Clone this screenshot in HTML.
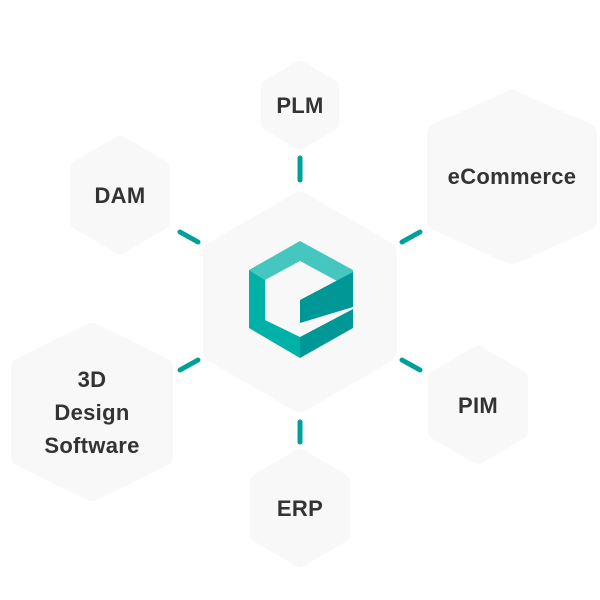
<!DOCTYPE html><html><head><style>body{margin:0;background:#fff}svg{display:block}text{font-family:"Liberation Sans",sans-serif;font-weight:bold;fill:#333;font-size:22px;text-anchor:middle;letter-spacing:0.3px}</style></head><body>
<svg width="600" height="600" viewBox="0 0 600 600">
<g fill="#f8f8f8" stroke="#f8f8f8" stroke-linejoin="round">
<polygon stroke-width="24" points="300,204 385,253 385,351 300,400 215,351 215,253"/>
<polygon stroke-width="16" points="300,69 331,87 331,123 300,141 269,123 269,87"/>
<polygon stroke-width="18" points="120,145 161,169 161,221 120,245 79,221 79,169"/>
<polygon stroke-width="22" points="512,101 586,134 586,220 512,253 438,220 438,134"/>
<polygon stroke-width="18" points="478,355 519,379 519,431 478,455 437,431 437,379"/>
<polygon stroke-width="18" points="300,458 341,482 341,534 300,558 259,534 259,482"/>
<polygon stroke-width="22" points="92,334 162,368 162,456 92,490 22,456 22,368"/>
</g>
<g stroke="#00a09a" stroke-width="5" stroke-linecap="round">
<line x1="300" y1="158" x2="300" y2="180"/><line x1="180" y1="232" x2="198" y2="242"/>
<line x1="402" y1="242" x2="420" y2="232"/><line x1="180" y1="370" x2="198" y2="360"/>
<line x1="402" y1="360" x2="420" y2="370"/><line x1="300" y1="422" x2="300" y2="442"/>
</g>
<polygon fill="#45c6bf" points="300,241 249,270 265,280 300,261 337,281 353,272 353,270"/>
<polygon fill="#00b1a8" points="249,270 265,280 265,320 300,337 300,358 249,328"/>
<polygon fill="#009896" points="300,300 353,272 353,307 300,323"/>
<polygon fill="#009896" points="300,337 353,309 353,328 300,358"/>
<text x="300" y="113">PLM</text>
<text x="120" y="203">DAM</text>
<text x="512" y="184">eCommerce</text>
<text x="478" y="413">PIM</text>
<text x="300" y="516">ERP</text>
<text x="92" y="387">3D</text><text x="92" y="420">Design</text><text x="92" y="453">Software</text>
</svg></body></html>
